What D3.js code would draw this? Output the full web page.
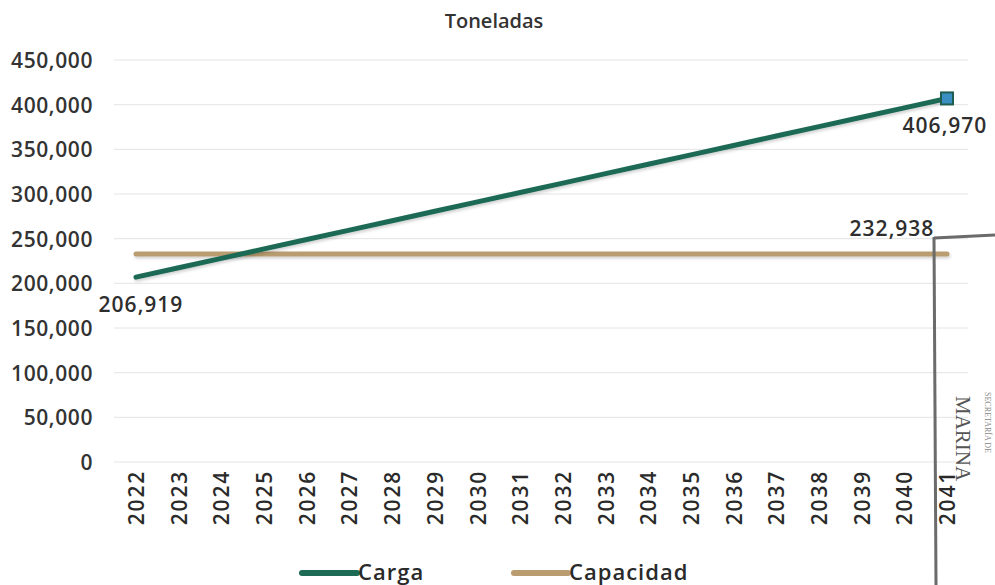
<!DOCTYPE html>
<html><head><meta charset="utf-8">
<script src="https://cdn.jsdelivr.net/npm/d3@7"></script>
<style>
html,body{margin:0;padding:0;background:#fff;}
svg{display:block;}
text{font-family:"Open Sans",sans-serif;font-weight:600;fill:#2e2e2e;}
</style></head>
<body>
<svg id="chart" width="995" height="585"></svg>
<script>
const years = ["2022","2023","2024","2025","2026","2027","2028","2029","2030","2031","2032","2033","2034","2035","2036","2037","2038","2039","2040","2041"];
const carga = [206919,217450,227980,238510,249040,259570,270100,280630,291160,301690,312220,322750,333280,343810,354340,364870,375400,385930,396450,406970];
const capacidad = [232938,232938,232938,232938,232938,232938,232938,232938,232938,232938,232938,232938,232938,232938,232938,232938,232938,232938,232938,232938];
const yTicks = [0,50000,100000,150000,200000,250000,300000,350000,400000,450000];
const seriesNames = ["Carga","Capacidad"];
const colors = {Carga:"#1e6b55", Capacidad:"#b99c70"};

const svg = d3.select("#chart");
const x = d3.scalePoint().domain(years).range([136, 947]);
const y = d3.scaleLinear().domain([0,450000]).range([462, 60]);
const fmt = d3.format(",");

const defs = svg.append("defs");
const f = defs.append("filter").attr("id","sh").attr("filterUnits","userSpaceOnUse")
  .attr("x",0).attr("y",0).attr("width",995).attr("height",585);
f.append("feDropShadow").attr("dx",1).attr("dy",2).attr("stdDeviation",1.5).attr("flood-color","#000").attr("flood-opacity",0.18);

// title
svg.append("text").attr("x",494).attr("y",28).attr("text-anchor","middle")
  .style("font-size","20px").style("fill","#333").text("Toneladas");

// gridlines
svg.append("g").selectAll("line").data(yTicks).join("line")
  .attr("x1",114).attr("x2",968).attr("y1",d=>y(d)).attr("y2",d=>y(d))
  .attr("stroke","#e4e4e4").attr("stroke-width",1);

// y axis
const yAxis = svg.append("g").attr("transform","translate(93,0)")
  .call(d3.axisLeft(y).tickValues(yTicks).tickFormat(fmt).tickSize(0).tickPadding(0));
yAxis.select(".domain").remove();
yAxis.selectAll("text").style("font-size","21px").style("letter-spacing","0.6px")
  .style("font-family","'Open Sans',sans-serif").style("font-weight","600").style("fill","#333").attr("dy","0.35em");

// x axis
const xAxis = svg.append("g").attr("transform","translate(0,469)")
  .call(d3.axisBottom(x).tickSize(0).tickPadding(0));
xAxis.select(".domain").remove();
xAxis.selectAll("text")
  .attr("transform","rotate(-90)")
  .attr("text-anchor","end").attr("x",-1).attr("y",0).attr("dy","0.36em")
  .style("font-size","21px").style("letter-spacing","1.8px")
  .style("font-family","'Open Sans',sans-serif").style("font-weight","600").style("fill","#2a2a2a");

// lines
const line = d3.line().x((d,i)=>x(years[i])).y(d=>y(d));
svg.append("path").datum(capacidad).attr("d",line).attr("fill","none")
  .attr("stroke",colors.Capacidad).attr("stroke-width",5).attr("stroke-linecap","round").attr("filter","url(#sh)");
svg.append("path").datum(carga).attr("d",line).attr("fill","none")
  .attr("stroke",colors.Carga).attr("stroke-width",5).attr("stroke-linecap","round").attr("filter","url(#sh)");

// end marker
const li = carga.length-1;
svg.append("rect").attr("x",x(years[li])-6).attr("y",y(carga[li])-6).attr("width",12).attr("height",12)
  .attr("fill","#3a8fc2").attr("stroke","#1e5d50").attr("stroke-width",2);

// data labels
const lbl = (xx,yy,t)=>svg.append("text").attr("x",xx).attr("y",yy).attr("text-anchor","middle")
  .style("font-size","21px").style("letter-spacing","1px").text(t);
lbl(141, y(carga[0])+35, fmt(carga[0]));
lbl(945, y(carga[li])+35, fmt(carga[li]));
lbl(892, y(capacidad[li])-18, fmt(capacidad[li]));

// legend
const leg = svg.append("g");
const legItems = [{name:seriesNames[0], x1:302, x2:357},{name:seriesNames[1], x1:514, x2:568}];
legItems.forEach(it=>{
  leg.append("line").attr("x1",it.x1).attr("x2",it.x2).attr("y1",573).attr("y2",573)
    .attr("stroke",colors[it.name]).attr("stroke-width",6).attr("stroke-linecap","round");
  leg.append("text").attr("x",it.x2+1).attr("y",580).style("font-size","22px").style("letter-spacing","1px")
    .style("fill","#2a2a2a").text(it.name);
});

// scanned stamp overlay
const st = svg.append("g");
st.append("line").attr("x1",934).attr("y1",237).attr("x2",936).attr("y2",585).attr("stroke","#6b6b6b").attr("stroke-width",3);
st.append("line").attr("x1",934).attr("y1",238).attr("x2",995).attr("y2",235).attr("stroke","#6b6b6b").attr("stroke-width",3);
st.append("text").attr("transform","translate(956,396) rotate(90)")
  .style("font-family","'Liberation Serif',serif").style("font-weight","normal").style("font-size","21px").style("fill","#555").text("MARINA");
st.append("text").attr("transform","translate(985,392) rotate(90)")
  .style("font-family","'Liberation Serif',serif").style("font-weight","normal").style("font-size","8px").style("fill","#888").text("SECRETARÍA DE");
</script>
</body></html>
